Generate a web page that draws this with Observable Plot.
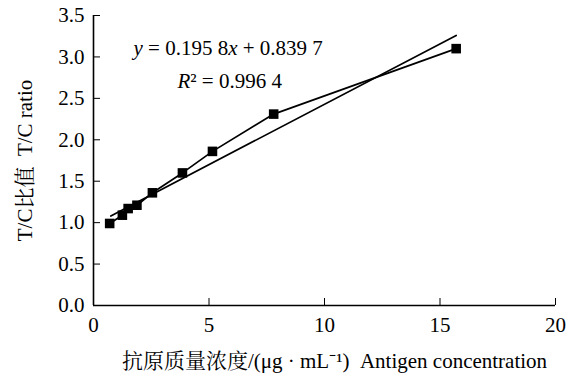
<!DOCTYPE html>
<html><head><meta charset="utf-8">
<script src="https://cdn.jsdelivr.net/npm/d3@7"></script>
<script src="https://cdn.jsdelivr.net/npm/@observablehq/plot@0.6"></script>
<style>
body{margin:0;background:#fff;}
</style>
</head><body><div id="chart"></div>
<script>
const concentration = [0.7, 1.25, 1.5, 1.88, 2.55, 3.85, 5.15, 7.8, 15.7];
const ratio = [0.99, 1.09, 1.17, 1.21, 1.36, 1.60, 1.86, 2.31, 3.10];
const trendX = [0.75, 15.7];
const trendY = [1.08, 3.26];
const xTicks = [0, 5, 10, 15, 20];
const yTicks = [0, 0.5, 1, 1.5, 2, 2.5, 3, 3.5];
const equationText = "y = 0.195 8x + 0.839 7";
const r2Text = "R² = 0.996 4";
const xLabel = "抗原质量浓度/(μg · mL⁻¹)  Antigen concentration";
const yLabel = "T/C比值  T/C ratio";

const FONT = "'Liberation Serif', 'Noto Serif CJK SC', 'Noto Sans CJK SC', serif";
const points = concentration.map((c, i) => ({x: c, y: ratio[i]}));
const trend = trendX.map((x, i) => ({x, y: trendY[i]}));

const chart = Plot.plot({
  width: 579, height: 379,
  marginLeft: 93, marginRight: 24, marginTop: 15, marginBottom: 74,
  style: {fontFamily: FONT, fontSize: "21px", color: "#000", background: "#fff"},
  x: {domain: [0, 20]},
  y: {domain: [0, 3.5]},
  marks: [
    Plot.axisX({ticks: xTicks, tickSize: -7, tickPadding: 19, tickFormat: d => String(d), fontSize: 21,
      label: xLabel, labelAnchor: "center", labelOffset: 62, labelArrow: "none"}),
    Plot.axisY({ticks: yTicks, tickSize: -7, tickPadding: 16, tickFormat: d => d.toFixed(1), fontSize: 21,
      label: yLabel, labelAnchor: "center", labelOffset: 76, labelArrow: "none"}),
    Plot.ruleY([0], {stroke: "#000", strokeWidth: 1.6}),
    Plot.ruleX([0], {stroke: "#000", strokeWidth: 1.6}),
    Plot.line(trend, {x: "x", y: "y", stroke: "#000", strokeWidth: 1.7}),
    Plot.line(points, {x: "x", y: "y", stroke: "#000", strokeWidth: 1.7}),
    Plot.dot(points, {x: "x", y: "y", symbol: "square", r: 5.4, fill: "#000", stroke: "none"}),
    Plot.text([equationText], {frameAnchor: "top-left", dx: 40, dy: 25, fontSize: 21, textAnchor: "start", className: "eq"}),
    Plot.text([r2Text], {frameAnchor: "top-left", dx: 84, dy: 58, fontSize: 21, textAnchor: "start", className: "r2"})
  ]
});
document.getElementById("chart").appendChild(chart);

d3.select(chart).selectAll("text").style("font-family", FONT);
// nudge the x-axis title to match the reference's centring
d3.select(chart).selectAll("g[aria-label='x-axis label'] text").attr("dx", 10);

// italicize variables in the annotations
d3.select(chart).selectAll("g.eq text").each(function() {
  const t = d3.select(this);
  t.text(null);
  t.append("tspan").attr("font-style", "italic").text("y");
  t.append("tspan").text(" = 0.195 8");
  t.append("tspan").attr("font-style", "italic").text("x");
  t.append("tspan").text(" + 0.839 7");
});
d3.select(chart).selectAll("g.r2 text").each(function() {
  const t = d3.select(this);
  t.text(null);
  t.append("tspan").attr("font-style", "italic").text("R");
  t.append("tspan").text("² = 0.996 4");
});
</script>
</body></html>
